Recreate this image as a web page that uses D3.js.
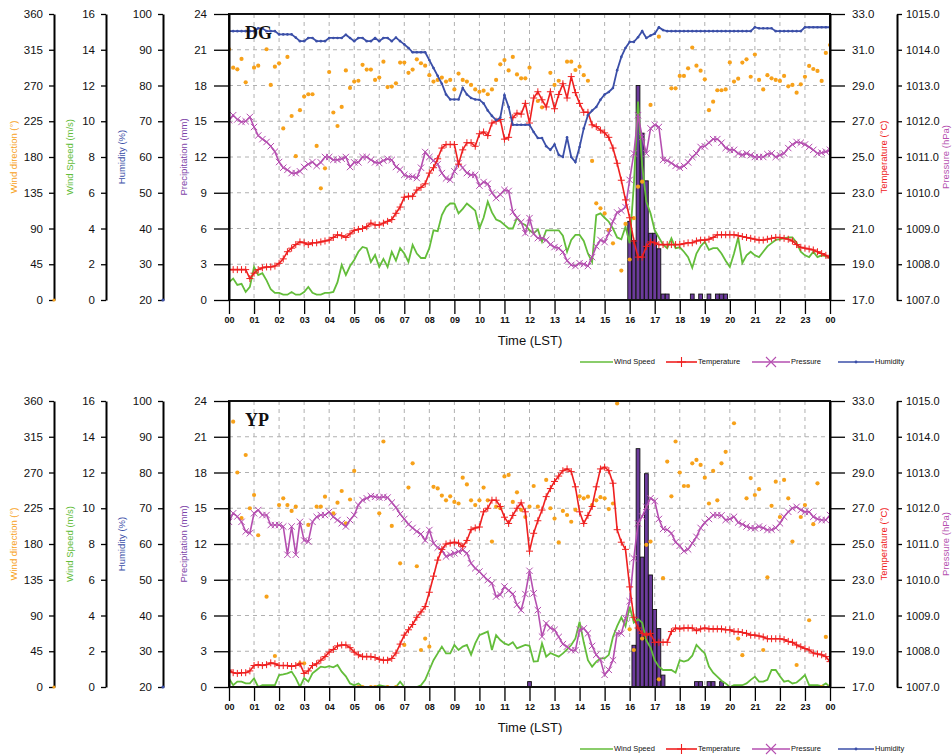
<!DOCTYPE html>
<html>
<head>
<meta charset="utf-8">
<script src="https://cdn.jsdelivr.net/npm/d3@7"></script>
<style>
  body { margin: 0; background: #fff; }
  svg { display: block; }
</style>
</head>
<body>
<svg id="chart" width="952" height="756"></svg>
<script>
// hour labels on the time axis
const hourLabels = ["00","01","02","03","04","05","06","07","08","09","10","11","12",
  "13","14","15","16","17","18","19","20","21","22","23","00"];

// ---- DG station, 10-minute samples 00:00 .. 24:00 ----
const dgWindDir = [
  315.6,292.5,290.4,303.4,274,null, 292.5,295,null,315.6,270.7,293.7,
  298,216,306,231.6,181,239, 256,259,259,194,140.6,165.8,
  287,236,219,243,289,267, 275,276,296,290,290,277,
  280,300,268,268.6,272.8,298.8, 298.8,286,290,303,298,295,
  283,275,277,280,275,277, 265,285,277,275,270.7,265,
  262,263.5,259,265,277,296.7, 302,289,306,284,279,279,
  292.5,null,250.5,242.5,null,286, 270.7,276,null,300,300,289.5,
  293.7,283,276,175,121.7,115.4, 109,88,71.3,null,37,95.7,
  51,103,142.7,149,null,245.5, null,331.5,null,null,266.5,266.5,
  282,282,291.6,317.7,295,288.7, 277.8,239,249.7,264,264,265,
  299,275,278.6,298.8,303,281, 309,277,265,283,279,277,
  275.7,282,269,270.7,261,271.5, 281,294.6,290.8,288.3,275.7,311,
  321];
const dgWindSpeed = [
  1.0,1.2,0.84,0.9,0.45,0.73, 1.85,1.4,1.5,1.1,0.6,0.4,
  0.4,0.3,0.3,0.45,0.3,0.3, 0.45,0.73,0.4,0.3,0.3,0.4,
  0.4,0.45,1.0,1.96,1.4,1.9, 2.24,2.7,2.97,2.9,2.13,2.52,
  1.85,2.3,1.85,2.7,2.2,2.9, 2.6,2.13,3.08,2.6,2.35,2.35,
  2.9,3.9,3.85,4.75,5.2,5.4, 5.4,4.85,5.1,5.4,5.2,5.0,
  4.0,4.6,5.5,4.9,4.5,4.4, 4.2,4.0,4.0,4.6,4.3,4.2,
  3.9,3.73,3.95,3.26,3.9,3.9, 3.9,3.9,3.6,2.7,3.36,3.64,
  3.64,3.3,2.6,2.13,4.75,4.85, 4.6,4.38,4.0,3.5,3.4,4.1,
  3.18,6.43,11.1,7.5,5.5,4.85, 3.9,3.5,3.1,2.9,3.45,2.9,
  2.95,2.7,2.4,1.8,2.6,3.0, 3.26,2.8,2.9,2.9,2.6,2.2,
  1.85,2.6,3.5,2.07,2.5,2.7, 2.5,2.4,2.7,3.0,3.18,3.36,
  3.4,3.45,3.5,3.5,3.2,2.7, 2.5,2.4,2.7,2.4,2.5,2.45,
  2.35];
const dgHumidity = [
  95.2,95.2,95.2,95.2,95.2,95.2, 95.2,96,96,95.2,95.2,95.2,
  94.3,94.3,94.3,94.3,93.4,92.4, 92.4,93.3,93.3,92.4,92.4,92.4,
  93.3,93.3,93.3,93.3,94.2,93.3, 92.4,93.3,93.3,92.4,92.4,93.3,
  92.4,93.3,93.3,92.4,93.4,92.4, 91.5,90.5,89.3,89.3,89.3,89.3,
  87.1,84.9,82.7,80.5,77.5,76.1, 76.1,76.1,79.3,77.5,76.5,76.1,
  76,75,73,71.5,70.3,71, 77.3,74,69,69,69,69,
  69,67,65.3,65.3,63,62, 63.5,60.6,60,65.5,60,58.6,
  62.8,68,71.7,73,74,76, 77.5,78.2,79.3,84.3,88,90.5,
  92.2,92.2,93.5,95.2,93.3,94, 94.5,96.3,95.5,95.2,95.2,95.2,
  95.2,95.2,95.2,95.2,95.2,95.2, 95.2,95.2,95.2,95.2,95.2,95.2,
  95.2,95.2,95.2,95.2,95.2,95.2, 96.3,96,96,96,96,95.2,
  95.2,95.2,95.2,95.2,95.2,95.2, 96.3,96.3,96.3,96.3,96.3,96.3,
  96.3];
const dgTemp = [
  18.7,18.7,18.7,18.7,18.7,18.2, 18.5,18.7,18.8,18.85,18.85,18.9,
  19.05,19.3,19.7,19.9,20.1,20.25, 20.2,20.1,20.2,20.2,20.25,20.3,
  20.35,20.5,20.65,20.6,20.5,20.7, 20.9,20.95,21.0,21.1,21.3,21.2,
  21.2,21.3,21.4,21.5,21.85,22.2, 22.75,22.8,22.8,23.15,23.3,23.5,
  24.1,24.4,24.9,25.5,25.7,25.7, 25.7,24.6,25.4,25.8,25.8,25.6,
  26.3,26.4,26.2,26.9,27.0,27.1, 26.0,26.1,27.2,27.45,27.4,28.0,
  26.9,28.3,28.65,28.2,27.8,28.65, 27.7,28.5,29.1,28.3,29.5,28.6,
  28.0,27.5,27.5,26.8,26.7,26.5, 26.35,26.1,25.5,24.65,23.7,22.6,
  21.6,20.3,19.4,19.4,20.0,20.25, 20.2,20.1,20.1,20.1,20.1,20.1,
  20.1,20.15,20.2,20.2,20.3,20.35, 20.35,20.4,20.5,20.65,20.65,20.65,
  20.65,20.65,20.6,20.55,20.5,20.45, 20.4,20.35,20.35,20.4,20.45,20.5,
  20.5,20.45,20.4,20.3,20.1,19.95, 19.9,19.85,19.8,19.7,19.6,19.5,
  19.35];
const dgPressure = [
  1012.03,1012.17,1012.05,1011.98,1012.0,1012.12, 1011.84,1011.6,1011.5,1011.42,1011.3,1011.15,
  1010.86,1010.7,1010.64,1010.55,1010.55,1010.6, 1010.72,1010.8,1010.86,1010.75,1010.85,1011.0,
  1011.0,1010.92,1010.92,1010.95,1011.0,1010.72, 1010.85,1010.85,1011.0,1011.0,1010.92,1010.85,
  1010.83,1010.9,1010.95,1010.92,1010.72,1010.65, 1010.5,1010.45,1010.45,1010.41,1010.7,1011.14,
  1011.0,1010.9,1010.8,1010.55,1010.4,1010.36, 1010.6,1010.83,1010.7,1010.55,1010.5,1010.5,
  1010.2,1010.3,1010.25,1010.0,1009.85,1009.95, 1010.08,1010.05,1009.46,1009.3,1009.18,1008.87,
  1009.29,1008.85,1008.73,1008.73,1008.68,1008.55, 1008.48,1008.45,1008.34,1008.1,1007.98,1007.95,
  1008.03,1008.0,1007.95,1008.2,1008.5,1008.68, 1008.62,1008.87,1009.2,1009.45,1009.5,1009.6,
  1010.36,1011.1,1012.17,1011.56,1011.1,1011.8, 1011.9,1011.84,1010.92,1010.9,1010.83,1010.75,
  1010.7,1010.75,1010.85,1011.0,1011.1,1011.28, 1011.3,1011.4,1011.5,1011.5,1011.4,1011.25,
  1011.2,1011.2,1011.1,1011.06,1011.1,1011.05, 1011.0,1011.0,1011.0,1011.08,1011.1,1011.0,
  1011.05,1011.1,1011.25,1011.35,1011.42,1011.4, 1011.35,1011.28,1011.2,1011.1,1011.12,1011.15,
  1011.2];
const dgRainTime = ["16:00","16:10","16:20","16:30","16:40","16:50","17:00","17:10","17:20","17:30",
  "18:30","18:50","19:10","19:30","19:40","19:50"];
const dgRain = [6.6,5.0,18.0,14.0,10.0,5.6,5.6,4.3,0.5,0.5, 0.5,0.5,0.5,0.5,0.5,0.5];

// ---- YP station ----
const ypWindDir = [
  null,334,270,212.6,292,225, 241.7,191,null,113.7,null,39,
  229,237.5,229,221.6,227,29.8, 29.8,204,null,227,227,239.6,
  null,218.6,232,246.7,206,236, 272,0,0,null,0,0,
  218.6,309,0,202.7,0,155.7, 52.9,251,281.6,152,46.6,61,
  50.8,252,250,241,235,240, 233,231,263.5,255,235,229,
  235,251,235,183,227,225, 265,267,233,245,223,214,
  227,253,227,null,260.6,225, 212,182,221.6,216.5,208,223,
  240,237.5,239.6,229,235,239, 237.5,224,231,357,null,null,
  72.6,46.6,null,61,179,183, null,9.7,137,283.7,240,309,
  270,253,253,281.6,285.8,279.5, 263.5,231,272,235,281.6,296,
  null,332,61,40,237.5,263, 241.7,249,46.6,138,228,258.5,
  214,260.6,237.5,183,27.7,214, 229,84,205,256.4,0,63,
  0];
const ypWindSpeed = [
  0.48,0.1,0.3,0.3,0.2,0.2, 0.48,0.0,0.1,0.1,0.1,0.1,
  0.67,0.7,0.76,0.86,0.5,0.0, 0.5,0.3,0.76,0.95,1.14,1.1,
  1.17,1.1,1.23,0.86,0.6,0.2, 0.1,0.2,0.0,0.0,0.0,0.0,
  0.1,0.05,0.0,0.0,0.0,0.3, 0.0,0.0,0.0,0.0,0.1,0.4,
  0.95,1.5,1.88,2.26,1.88,1.88, 2.35,2.07,2.26,2.35,1.8,2.44,
  2.9,3.0,3.1,2.07,2.9,2.63, 2.44,2.35,2.5,2.16,2.26,2.35,
  2.3,1.42,1.45,2.44,1.7,1.9, 1.8,1.7,1.88,2.1,2.35,2.72,
  3.65,2.5,1.5,1.14,1.42,1.6, 1.6,1.8,2.8,3.4,3.9,3.4,
  4.5,3.6,3.8,3.6,2.6,2.2, 1.5,1.14,0.95,0.95,0.95,0.8,
  1.5,1.42,1.5,1.75,2.35,2.1, 1.88,1.14,0.8,0.58,0.35,0.2,
  0.0,0.1,0.1,0.1,0.2,0.4, 0.58,0.3,0.3,0.4,0.95,0.95,
  0.6,0.3,0.35,0.2,0.25,0.45, 0.67,0.1,0.1,0.1,0.05,0.2,
  0.0];
const ypTemp = [
  17.95,17.8,17.76,17.8,17.8,17.9, 18.2,18.25,18.2,18.25,18.35,18.3,
  18.2,18.2,18.2,18.15,18.2,18.3, 17.76,17.9,18.2,18.3,18.5,18.7,
  18.95,19.1,19.3,19.35,19.35,19.2, 18.95,18.8,18.7,18.7,18.7,18.65,
  18.55,18.5,18.5,18.6,18.9,19.4, 19.9,20.2,20.5,20.9,21.2,21.5,
  22.3,23.2,24.1,24.7,25.0,25.05, 25.1,25.05,24.85,25.2,25.8,25.9,
  25.95,26.8,27.0,27.45,27.45,27.1, 26.5,26.15,26.6,27.0,27.3,26.8,
  24.6,25.6,26.3,26.9,27.65,28.1, 28.5,28.8,29.1,29.2,29.05,28.2,
  26.8,26.15,26.6,27.1,28.2,29.2, 29.3,29.1,28.4,25.8,25.1,24.7,
  22.6,20.9,20.3,20.0,19.9,20.0, 19.5,19.5,19.5,19.5,20.1,20.3,
  20.25,20.3,20.3,20.3,20.15,20.25, 20.3,20.25,20.25,20.25,20.25,20.2,
  20.2,20.1,20.1,20.05,20.0,19.9, 19.9,19.85,19.8,19.7,19.7,19.7,
  19.7,19.65,19.55,19.5,19.35,19.25, 19.15,19.07,18.9,18.85,18.8,18.7,
  18.42];
const ypPressure = [
  1011.62,1011.86,1011.77,1011.62,1011.35,1011.3, 1011.86,1011.95,1011.81,1011.81,1011.53,1011.53,
  1011.53,1011.49,1010.7,1011.49,1010.7,1011.62, 1011.1,1011.07,1011.62,1011.76,1011.81,1011.81,
  1011.9,1011.76,1011.67,1011.58,1011.49,1011.67, 1011.81,1012.09,1012.23,1012.28,1012.34,1012.32,
  1012.3,1012.32,1012.3,1012.16,1012.02,1011.84, 1011.7,1011.55,1011.45,1011.35,1011.28,1011.1,
  1011.39,1011.02,1010.9,1010.83,1010.65,1010.7, 1010.74,1010.79,1010.83,1010.74,1010.46,1010.32,
  1010.23,1010.1,1009.99,1009.9,1009.53,1009.58, 1009.81,1009.7,1009.6,1009.3,1009.15,1009.6,
  1010.25,1009.62,1009.15,1008.41,1008.78,1008.65, 1008.6,1008.4,1008.2,1008.13,1008.03,1008.03,
  1008.6,1008.64,1008.5,1008.15,1007.9,1007.76, 1007.34,1007.48,1007.75,1008.5,1008.5,1008.92,
  1009.4,1010.6,1011.58,1011.77,1012.04,1012.28, 1012.2,1011.7,1011.42,1011.4,1011.3,1011.05,
  1010.95,1010.8,1010.85,1011.02,1011.2,1011.45, 1011.6,1011.7,1011.81,1011.81,1011.8,1011.67,
  1011.7,1011.76,1011.6,1011.55,1011.49,1011.45, 1011.44,1011.49,1011.45,1011.39,1011.4,1011.45,
  1011.58,1011.76,1011.9,1012.0,1012.04,1011.95, 1011.9,1011.9,1011.76,1011.7,1011.67,1011.67,
  1011.81];
const ypRainTime = ["12:00","16:10","16:20","16:30","16:40","16:50","17:00","17:10","17:20",
  "18:40","18:50","19:10","19:20","19:40"];
const ypRain = [0.45,3.5,20.0,10.9,17.9,9.4,6.5,4.9,1.0, 0.45,0.45,0.45,0.45,0.45];

// colours
const dirColor = "#f7a11a", spdColor = "#63bd3a", humColor = "#3b4fa8";
const rainColor = "#6c3b9c", tmpColor = "#ef2020", prsColor = "#b54fb0";

let svg = d3.select("#chart");
let xLeft = 229, xRight = 830, plotH = 286;
let x = d3.scaleLinear().domain([0, 24]).range([xLeft, xRight]);
let sampleHour = i => i / 6;   // one sample every 10 minutes
let parseHM = s => +s.slice(0, 2) + (+s.slice(3)) / 60;

const plusPath = "M-3.5,0H3.5M0,-3.5V3.5";
const crossPath = "M-3.2,-3.2L3.2,3.2M-3.2,3.2L3.2,-3.2";

function styleAxis(g, size) {
  g.attr("font-family", "Liberation Sans, Arial, sans-serif").attr("font-size", size);
  g.selectAll("text").attr("fill", "#111");
  g.select(".domain").attr("stroke-width", 2);
  g.selectAll(".tick line").attr("stroke-width", 1.3);
}

function axisTitle(text, cx, cy, color) {
  svg.append("text")
    .attr("transform", "translate(" + cx + "," + cy + ") rotate(-90)")
    .attr("text-anchor", "middle").attr("dominant-baseline", "middle")
    .attr("font-family", "Liberation Sans, Arial, sans-serif").attr("font-size", 9.5)
    .attr("fill", color).text(text);
}

function drawPanel(p, idx) {
  let top = p.top, bottom = top + plotH;
  let mid = (top + bottom) / 2;
  let yRain = d3.scaleLinear().domain([0, 24]).range([bottom, top]);
  let yDir = d3.scaleLinear().domain([0, 360]).range([bottom, top]);
  let ySpd = d3.scaleLinear().domain([0, 16]).range([bottom, top]);
  let yHum = d3.scaleLinear().domain([20, 100]).range([bottom, top]);
  let yTmp = d3.scaleLinear().domain([17, 33]).range([bottom, top]);
  let yPrs = d3.scaleLinear().domain([1007, 1015]).range([bottom, top]);

  let clipId = "clip" + idx;
  svg.append("clipPath").attr("id", clipId).append("rect")
    .attr("x", xLeft).attr("y", top).attr("width", xRight - xLeft).attr("height", plotH);

  let g = svg.append("g");

  // dashed grid
  g.selectAll(".vgrid").data(d3.range(1, 24)).enter().append("line")
    .attr("x1", d => x(d)).attr("x2", d => x(d)).attr("y1", top).attr("y2", bottom)
    .attr("stroke", "#b0b0b0").attr("stroke-dasharray", "4,4");
  g.selectAll(".hgrid").data(d3.range(3, 24, 3)).enter().append("line")
    .attr("x1", xLeft).attr("x2", xRight).attr("y1", d => yRain(d)).attr("y2", d => yRain(d))
    .attr("stroke", "#b0b0b0").attr("stroke-dasharray", "4,4");

  let pg = g.append("g").attr("clip-path", "url(#" + clipId + ")");

  // precipitation bars
  let bw = x(1 / 6) - x(0) - 0.4;
  let rain = p.rainTime.map((t, i) => ({ t: parseHM(t), v: p.rain[i] }));
  pg.selectAll(".bar").data(rain).enter().append("rect")
    .attr("x", d => x(d.t) - bw / 2).attr("y", d => yRain(d.v))
    .attr("width", bw).attr("height", d => bottom - yRain(d.v))
    .attr("fill", rainColor).attr("stroke", "#111").attr("stroke-width", 0.9);

  // wind speed
  let spdLine = d3.line().x((d, i) => x(sampleHour(i))).y(d => ySpd(d));
  pg.append("path").datum(p.speed).attr("d", spdLine)
    .attr("fill", "none").attr("stroke", spdColor).attr("stroke-width", 1.8);

  // wind direction dots
  let dirs = p.dir.map((d, i) => ({ t: sampleHour(i), v: d })).filter(d => d.v !== null);
  pg.selectAll(".dir").data(dirs).enter().append("circle")
    .attr("cx", d => x(d.t)).attr("cy", d => yDir(d.v)).attr("r", 2.1)
    .attr("fill", dirColor);

  // pressure
  let prsLine = d3.line().x((d, i) => x(sampleHour(i))).y(d => yPrs(d));
  pg.append("path").datum(p.pressure).attr("d", prsLine)
    .attr("fill", "none").attr("stroke", prsColor).attr("stroke-width", 1.6);
  pg.selectAll(".prs").data(p.pressure).enter().append("path")
    .attr("transform", (d, i) => "translate(" + x(sampleHour(i)) + "," + yPrs(d) + ")")
    .attr("d", crossPath).attr("stroke", prsColor).attr("stroke-width", 1);

  // temperature
  let tmpLine = d3.line().x((d, i) => x(sampleHour(i))).y(d => yTmp(d));
  pg.append("path").datum(p.temp).attr("d", tmpLine)
    .attr("fill", "none").attr("stroke", tmpColor).attr("stroke-width", 1.6);
  pg.selectAll(".tmp").data(p.temp).enter().append("path")
    .attr("transform", (d, i) => "translate(" + x(sampleHour(i)) + "," + yTmp(d) + ")")
    .attr("d", plusPath).attr("stroke", tmpColor).attr("stroke-width", 1);

  // humidity (only at DG)
  if (p.hum) {
    let humLine = d3.line().x((d, i) => x(sampleHour(i))).y(d => yHum(d));
    pg.append("path").datum(p.hum).attr("d", humLine)
      .attr("fill", "none").attr("stroke", humColor).attr("stroke-width", 1.8);
    pg.selectAll(".hum").data(p.hum).enter().append("circle")
      .attr("cx", (d, i) => x(sampleHour(i))).attr("cy", d => yHum(d)).attr("r", 1.3)
      .attr("fill", humColor);
  }

  // frame
  g.append("rect").attr("x", xLeft).attr("y", top).attr("width", xRight - xLeft).attr("height", plotH)
    .attr("fill", "none").attr("stroke", "#111").attr("stroke-width", 2);

  // station name
  g.append("text").attr("x", 245).attr("y", top + 25)
    .attr("font-family", "Liberation Serif, Times New Roman, serif").attr("font-weight", "bold")
    .attr("font-size", 18).attr("fill", "#111").text(p.name);

  // time axis
  let xa = g.append("g").attr("transform", "translate(0," + bottom + ")")
    .call(d3.axisBottom(x).tickValues(d3.range(0, 25)).tickFormat(d => hourLabels[d])
      .tickSize(14).tickSizeOuter(0).tickPadding(3));
  styleAxis(xa, 9);
  xa.selectAll("text").attr("font-weight", "bold");
  xa.select(".domain").remove();
  g.append("text").attr("x", 530).attr("y", bottom + 45).attr("text-anchor", "middle")
    .attr("font-family", "Liberation Sans, Arial, sans-serif").attr("font-size", 13)
    .attr("fill", "#111").text("Time (LST)");

  // left axes
  let a1 = g.append("g").attr("transform", "translate(54,0)")
    .call(d3.axisLeft(yDir).tickValues(d3.range(0, 361, 45)).tickSize(5).tickSizeOuter(0).tickPadding(6));
  styleAxis(a1, 11.5);
  let a2 = g.append("g").attr("transform", "translate(106,0)")
    .call(d3.axisLeft(ySpd).tickValues(d3.range(0, 17, 2)).tickSize(5).tickSizeOuter(0).tickPadding(6));
  styleAxis(a2, 11.5);
  let a3 = g.append("g").attr("transform", "translate(163,0)")
    .call(d3.axisLeft(yHum).tickValues(d3.range(20, 101, 10)).tickSize(5).tickSizeOuter(0).tickPadding(6));
  styleAxis(a3, 11.5);
  let a4 = g.append("g").attr("transform", "translate(" + xLeft + ",0)")
    .call(d3.axisLeft(yRain).tickValues(d3.range(0, 25, 3)).tickSize(15).tickSizeOuter(0).tickPadding(7));
  styleAxis(a4, 11.5);
  g.append("circle").attr("cx", 54).attr("cy", bottom).attr("r", 1.6).attr("fill", dirColor);
  g.append("circle").attr("cx", 163).attr("cy", bottom).attr("r", 1.6).attr("fill", humColor);

  // right axes
  let a5 = g.append("g").attr("transform", "translate(" + xRight + ",0)")
    .call(d3.axisRight(yTmp).tickValues(d3.range(17, 34, 2)).tickFormat(d3.format(".1f"))
      .tickSize(15).tickSizeOuter(0).tickPadding(7));
  styleAxis(a5, 11.5);
  let a6 = g.append("g").attr("transform", "translate(897,0)")
    .call(d3.axisRight(yPrs).tickValues(d3.range(1007, 1016, 1)).tickFormat(d3.format(".1f"))
      .tickSize(5).tickSizeOuter(0).tickPadding(4));
  styleAxis(a6, 11);

  axisTitle("Wind direction (°)", 14, mid, dirColor);
  axisTitle("Wind Speed (m/s)", 70, mid, spdColor);
  axisTitle("Humidity (%)", 122, mid, humColor);
  axisTitle("Precipitation (mm)", 184, mid, "#7d43a8");
  axisTitle("Temperature (°C)", 884, mid, tmpColor);
  axisTitle("Pressure (hPa)", 946, mid, prsColor);

  // legend
  let ly = bottom + 62;
  let items = [
    { label: "Wind Speed", x1: 580, x2: 613, color: spdColor, mark: null },
    { label: "Temperature", x1: 666, x2: 697, color: tmpColor, mark: "M-4.5,0H4.5M0,-5V5" },
    { label: "Pressure", x1: 752, x2: 790, color: prsColor, mark: "M-5,-5L5,5M-5,5L5,-5" },
    { label: "Humidity", x1: 838, x2: 874, color: humColor, mark: "dot" }
  ];
  let lg = g.append("g");
  items.forEach(function(it) {
    lg.append("line").attr("x1", it.x1).attr("x2", it.x2).attr("y1", ly).attr("y2", ly)
      .attr("stroke", it.color).attr("stroke-width", 1.6);
    let cx = (it.x1 + it.x2) / 2;
    if (it.mark === "dot") {
      lg.append("circle").attr("cx", cx).attr("cy", ly).attr("r", 1.4).attr("fill", it.color);
    } else if (it.mark) {
      lg.append("path").attr("transform", "translate(" + cx + "," + ly + ")")
        .attr("d", it.mark).attr("stroke", it.color).attr("stroke-width", 1.1);
    }
    lg.append("text").attr("x", it.x2 + 1).attr("y", ly).attr("dominant-baseline", "middle")
      .attr("font-family", "Liberation Sans, Arial, sans-serif").attr("font-size", 7.5)
      .attr("fill", "#111").text(it.label);
  });
}

let panels = [
  { name: "DG", top: 14, dir: dgWindDir, speed: dgWindSpeed, hum: dgHumidity,
    temp: dgTemp, pressure: dgPressure, rainTime: dgRainTime, rain: dgRain },
  { name: "YP", top: 401, dir: ypWindDir, speed: ypWindSpeed, hum: null,
    temp: ypTemp, pressure: ypPressure, rainTime: ypRainTime, rain: ypRain }
];
panels.forEach(drawPanel);
</script>
</body>
</html>
